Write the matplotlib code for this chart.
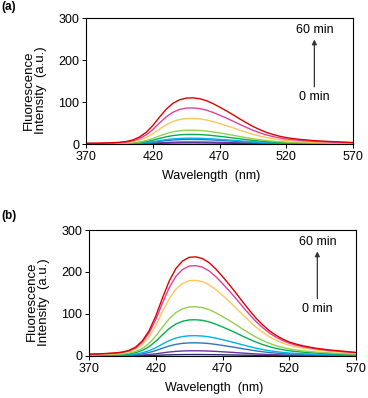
import numpy as np
import matplotlib
matplotlib.use("Agg")
import matplotlib.pyplot as plt

plt.rcParams["font.family"] = ["Liberation Sans", "DejaVu Sans"]

# shared emission profile (red curve of panel b)
wavelength = [370, 375, 380, 385, 390, 395, 400, 405, 410, 415, 420, 425, 430,
              435, 440, 445, 450, 455, 460, 465, 470, 475, 480, 485, 490, 495,
              500, 505, 510, 515, 520, 525, 530, 535, 540, 545, 550, 555, 560,
              565, 570]
profile = [4, 4.5, 5, 6, 7, 9, 13, 21, 36, 60, 95, 138, 178,
           208, 226, 235, 236, 232, 222, 207, 189, 170, 150, 129, 109, 90,
           74, 60, 49, 40, 33, 28, 24, 21, 18, 16, 14, 12.5, 11,
           9.5, 8]

colors = ["#1f2a6b", "#7030a0", "#2e75b6", "#00b0f0", "#00b050",
          "#92d050", "#ffc65a", "#e0409a", "#e00000"]

# peak intensity of each time point, bottom (0 min) to top (60 min)
peaks_a = [3, 5, 11, 14, 23, 33, 61, 86, 110]
peaks_b = [3, 12, 31, 48, 86, 117, 180, 215, 236]

xticks = [370, 420, 470, 520, 570]
yticks = [0, 100, 200, 300]

fig = plt.figure(figsize=(3.68, 3.98), dpi=100)
ax_a = fig.add_axes([0.234, 0.638, 0.7255, 0.3166])
ax_b = fig.add_axes([0.242, 0.106, 0.7255, 0.316])

wl = np.array(wavelength)
prof = np.array(profile) / max(profile)

fs = 9
for ax, peaks, tag, ytag in [(ax_a, peaks_a, "(a)", 0.997), (ax_b, peaks_b, "(b)", 0.472)]:
    for pk, c in zip(peaks, colors):
        ax.plot(wl, pk * prof, color=c, linewidth=1.0)
    ax.set_xlim(370, 570)
    ax.set_ylim(0, 300)
    ax.set_xticks(xticks)
    ax.set_yticks(yticks)
    ax.tick_params(direction="out", length=3, width=0.7, labelsize=fs, pad=2)
    for s in ax.spines.values():
        s.set_linewidth(0.8)
    ax.set_xlabel("Wavelength  (nm)", fontsize=fs)
    ax.xaxis.set_label_coords(0.467, -0.205)
    ax.set_ylabel("Fluorescence\nIntensity  (a.u.)", fontsize=9.5, linespacing=1.05)
    ax.yaxis.set_label_coords(-0.145, 0.43)
    ax.text(0.855, 0.905, "60 min", transform=ax.transAxes, ha="center", va="center", fontsize=fs)
    ax.text(0.855, 0.37, "0 min", transform=ax.transAxes, ha="center", va="center", fontsize=fs)
    ax.annotate("", xy=(0.855, 0.83), xytext=(0.855, 0.455), xycoords="axes fraction",
                arrowprops=dict(arrowstyle="-|>", color="#333333", lw=0.9,
                                mutation_scale=7, shrinkA=0, shrinkB=0))
    fig.text(0.005, ytag, tag, fontsize=8.5, fontweight="bold", ha="left", va="top")

fig.savefig("out.png", dpi=100)
